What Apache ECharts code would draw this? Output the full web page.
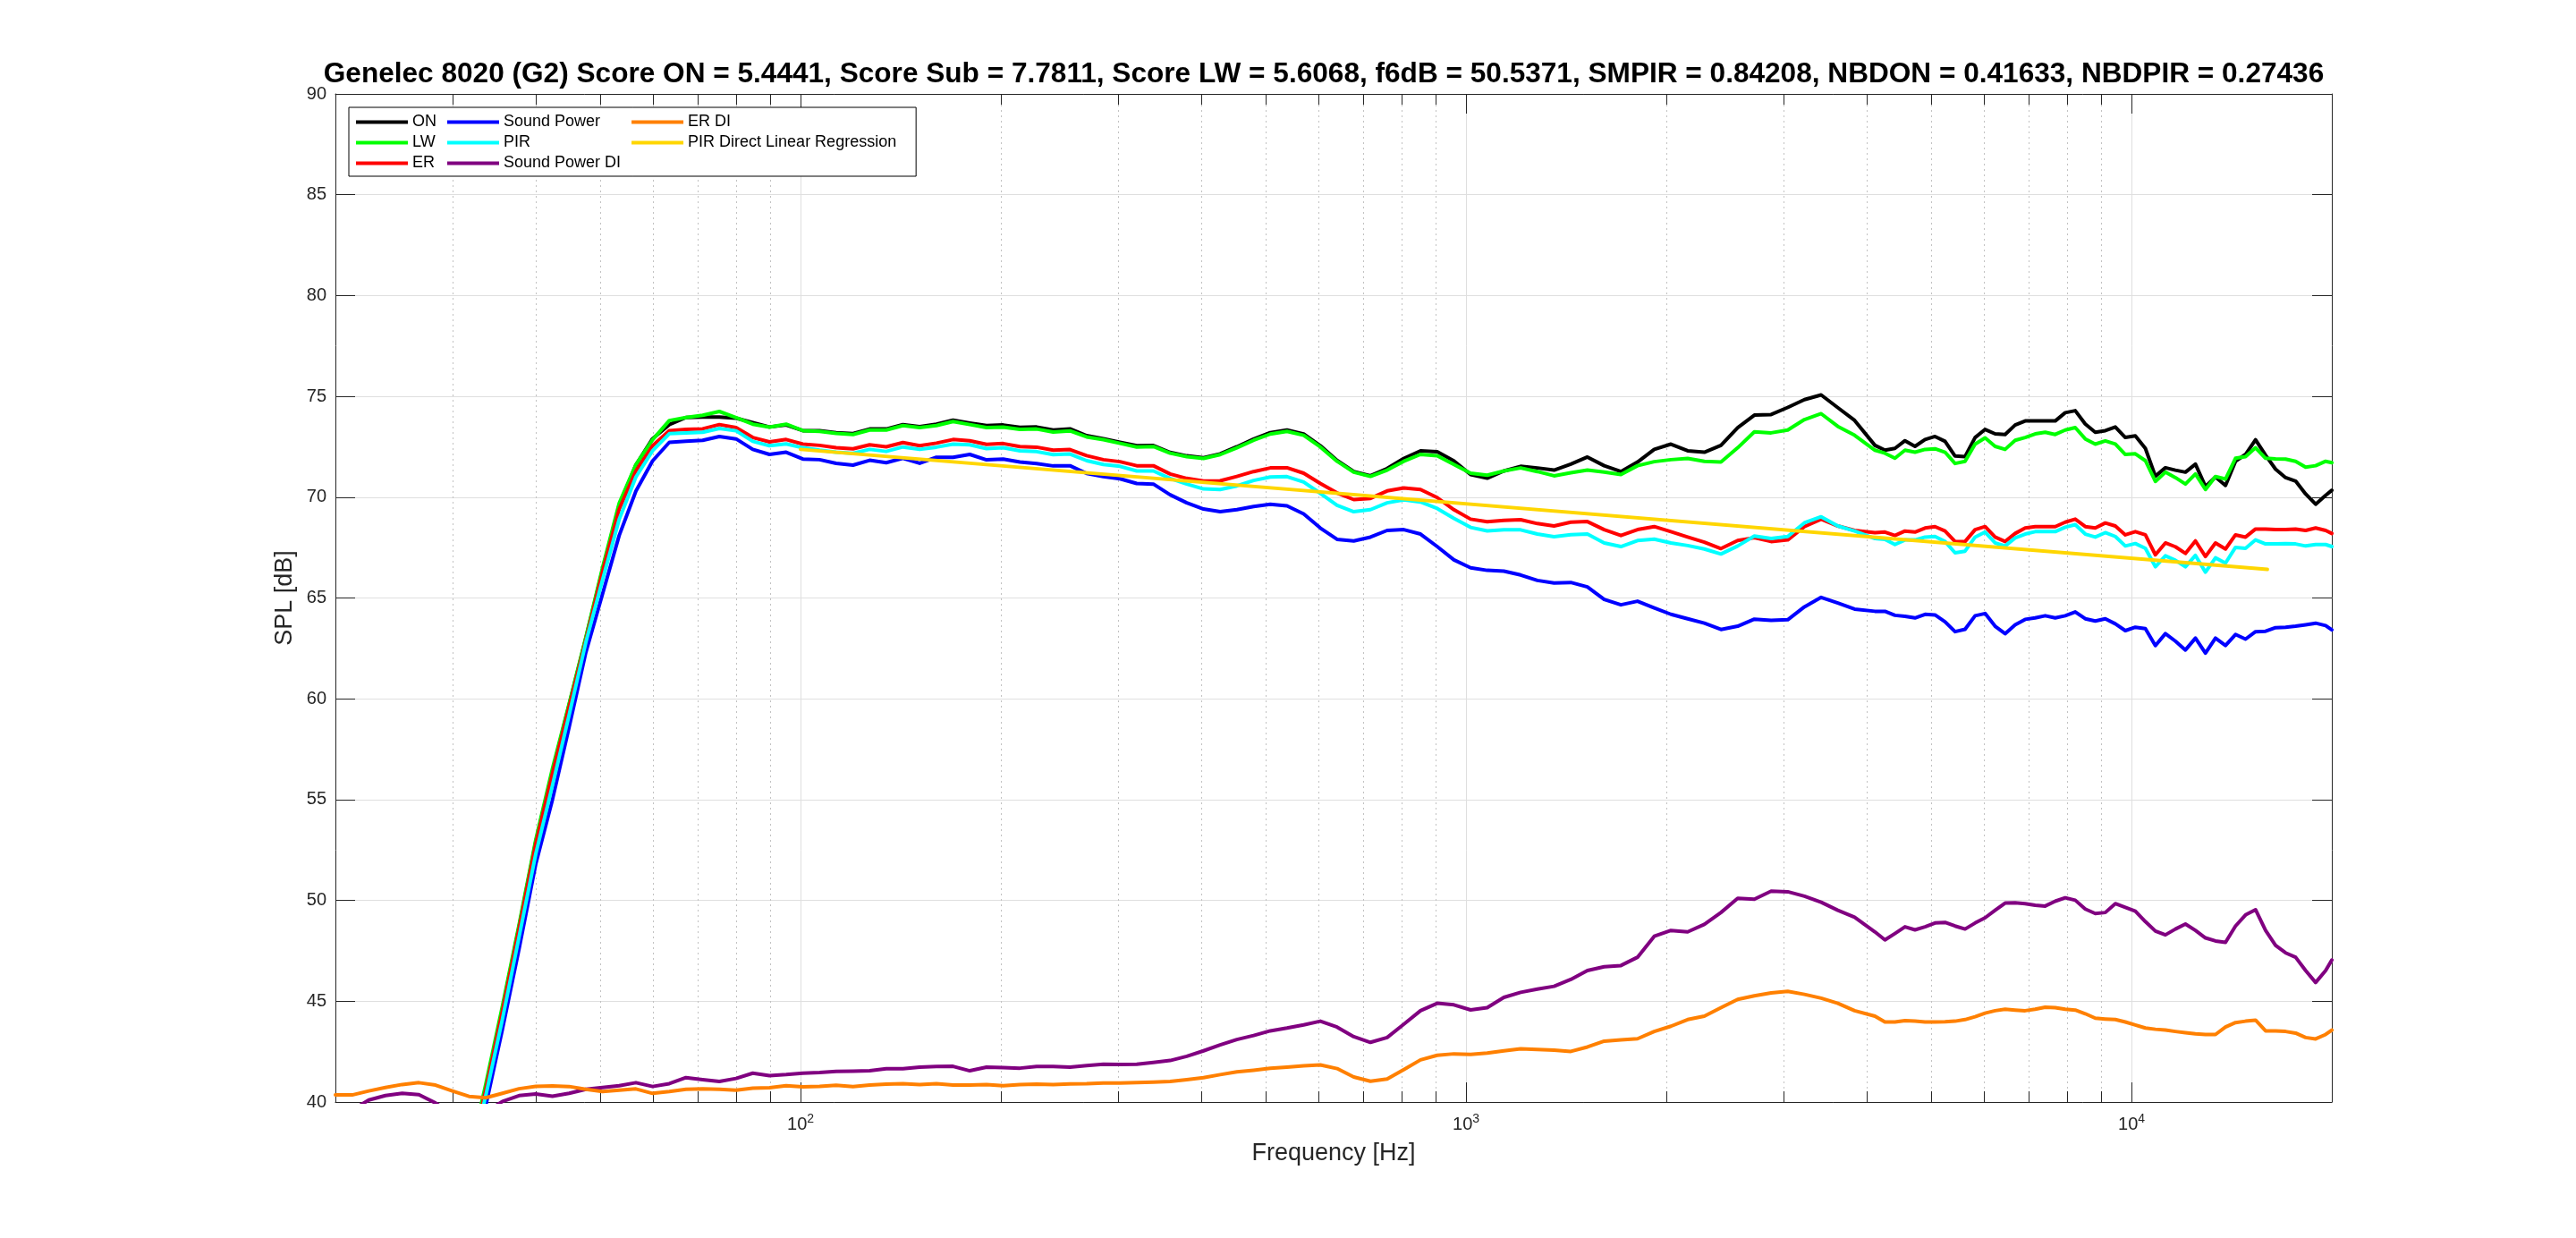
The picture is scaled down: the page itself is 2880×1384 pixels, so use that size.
<!DOCTYPE html>
<html><head><meta charset="utf-8">
<script src="https://cdn.jsdelivr.net/npm/echarts@6/dist/echarts.min.js"></script>
<style>html,body{margin:0;padding:0;background:#fff}#c{width:2880px;height:1384px}</style>
</head><body><div id="c"></div>
<script>
const TITLE = 'Genelec 8020 (G2) Score ON = 5.4441, Score Sub = 7.7811, Score LW = 5.6068, f6dB = 50.5371, SMPIR = 0.84208, NBDON = 0.41633, NBDPIR = 0.27436';
const SERIES_NAMES = ['ON', 'LW', 'ER', 'Sound Power', 'PIR', 'Sound Power DI', 'ER DI', 'PIR Direct Linear Regression'];
const MAJOR_TICKS = [100, 1000, 10000];
const MINOR_TICKS = [30, 40, 50, 60, 70, 80, 90, 200, 300, 400, 500, 600, 700, 800, 900, 2000, 3000, 4000, 5000, 6000, 7000, 8000, 9000];

const FREQ = [20, 21.19, 22.45, 23.78, 25.2, 26.7, 28.28, 29.97, 31.75, 33.64,
35.64, 37.76, 40, 42.38, 44.9, 47.57, 50.4, 53.39, 56.57, 59.93,
63.5, 67.27, 71.27, 75.51, 80, 84.76, 89.8, 95.14, 100.8, 106.8,
113.1, 119.9, 127, 134.5, 142.5, 151, 160, 169.5, 179.6, 190.3,
201.6, 213.6, 226.3, 239.7, 254, 269.1, 285.1, 302, 320, 339,
359.2, 380.5, 403.2, 427.1, 452.5, 479.5, 508, 538.2, 570.2, 604.1,
640, 678.1, 718.4, 761.1, 806.3, 854.3, 905.1, 958.9, 1016, 1076,
1140, 1208, 1280, 1356, 1437, 1522, 1613, 1709, 1810, 1918,
2032, 2153, 2281, 2416, 2560, 2712, 2874, 3044, 3225, 3417,
3620, 3836,
4116, 4261, 4411, 4567, 4728, 4895, 5067, 5246, 5431, 5622,
5821, 6026, 6238, 6458, 6686, 6922, 7166, 7419, 7680, 7951,
8232, 8522, 8822, 9134, 9456, 9789, 10134, 10492, 10862, 11245,
11641, 12052, 12477, 12917, 13372, 13844, 14332, 14838, 15361, 15903,
16463, 17044, 17645, 18267, 18911, 19578, 20000];

const ON = [null, null, null, null, null, null, null, null, 37.0, 40.5,
44.6, 48.7, 52.9, 56.4, 59.7, 63.0, 66.4, 69.6, 71.6, 72.9,
73.6, 73.95, 73.97, 73.97, 73.92, 73.7, 73.48, 73.58, 73.3, 73.3,
73.2, 73.15, 73.38, 73.38, 73.6, 73.5, 73.62, 73.82, 73.68, 73.55,
73.58, 73.46, 73.48, 73.33, 73.39, 73.05, 72.9, 72.72, 72.55, 72.56,
72.22, 72.05, 71.96, 72.15, 72.5, 72.88, 73.2, 73.33, 73.13, 72.55,
71.82, 71.27, 71.06, 71.42, 71.92, 72.3, 72.25, 71.8, 71.12, 70.94,
71.3, 71.53, 71.45, 71.34, 71.64, 71.99, 71.56, 71.27, 71.74, 72.37,
72.63, 72.3, 72.23, 72.57, 73.45, 74.07, 74.1, 74.45, 74.84, 75.07,
74.44, 73.81,
72.57, 72.33, 72.42, 72.8, 72.52, 72.86, 73.01, 72.77, 72.04, 72.01,
72.96, 73.36, 73.14, 73.11, 73.58, 73.78, 73.78, 73.78, 73.78, 74.19,
74.29, 73.63, 73.22, 73.3, 73.48, 72.96, 73.04, 72.42, 71.04, 71.46,
71.34, 71.24, 71.64, 70.53, 71.0, 70.58, 71.78, 72.12, 72.85, 72.08,
71.39, 70.97, 70.8, 70.16, 69.65, 70.09, 70.34];

const LW = [null, null, null, null, null, null, null, null, 37.2, 40.87,
44.75, 48.8, 53.0, 56.54, 59.75, 63.05, 66.5, 69.7, 71.62, 72.85,
73.8, 73.95, 74.06, 74.25, 73.95, 73.62, 73.47, 73.62, 73.3, 73.26,
73.16, 73.11, 73.33, 73.33, 73.55, 73.45, 73.55, 73.75, 73.6, 73.45,
73.47, 73.36, 73.38, 73.23, 73.29, 72.99, 72.85, 72.67, 72.49, 72.51,
72.18, 72.01, 71.92, 72.11, 72.45, 72.82, 73.13, 73.26, 73.07, 72.49,
71.78, 71.24, 71.03, 71.34, 71.78, 72.12, 72.05, 71.62, 71.19, 71.09,
71.3, 71.45, 71.27, 71.06, 71.21, 71.34, 71.24, 71.12, 71.56, 71.76,
71.86, 71.92, 71.78, 71.74, 72.45, 73.24, 73.19, 73.33, 73.85, 74.14,
73.51, 73.07,
72.33, 72.18, 71.93, 72.33, 72.23, 72.37, 72.4, 72.23, 71.67, 71.78,
72.63, 72.94, 72.52, 72.37, 72.82, 72.96, 73.14, 73.22, 73.11, 73.33,
73.45, 72.89, 72.63, 72.79, 72.64, 72.12, 72.15, 71.81, 70.78, 71.24,
70.97, 70.65, 71.15, 70.38, 71.02, 70.9, 71.93, 72.01, 72.45, 71.93,
71.9, 71.89, 71.78, 71.49, 71.56, 71.78, 71.71];

const ER = [null, null, null, null, null, null, null, null, 36.9, 40.6,
44.5, 48.6, 52.8, 56.3, 59.6, 62.9, 66.3, 69.4, 71.3, 72.55,
73.3, 73.36, 73.39, 73.6, 73.45, 72.96, 72.74, 72.86, 72.63, 72.57,
72.45, 72.4, 72.6, 72.5, 72.71, 72.55, 72.68, 72.86, 72.8, 72.62,
72.66, 72.51, 72.48, 72.33, 72.36, 72.06, 71.86, 71.76, 71.56, 71.56,
71.15, 70.93, 70.8, 70.81, 71.03, 71.27, 71.45, 71.46, 71.19, 70.68,
70.21, 69.88, 69.94, 70.31, 70.46, 70.38, 69.98, 69.38, 68.91, 68.78,
68.85, 68.88, 68.69, 68.57, 68.76, 68.79, 68.39, 68.1, 68.39, 68.54,
68.29, 68.02, 67.77, 67.45, 67.85, 67.99, 67.8, 67.88, 68.54, 68.91,
68.57, 68.35,
68.24, 68.27, 68.1, 68.32, 68.27, 68.47, 68.54, 68.32, 67.8, 67.8,
68.39, 68.54, 68.02, 67.8, 68.2, 68.47, 68.54, 68.54, 68.54, 68.76,
68.91, 68.54, 68.47, 68.72, 68.57, 68.13, 68.29, 68.13, 67.14, 67.73,
67.54, 67.21, 67.83, 67.06, 67.73, 67.43, 68.13, 68.02, 68.42, 68.42,
68.39, 68.39, 68.42, 68.35, 68.47, 68.35, 68.2];

const SP = [null, null, null, null, null, null, null, null, 36.5, 39.8,
43.6, 47.6, 51.8, 55.0, 58.6, 62.3, 65.2, 68.1, 70.3, 71.8,
72.72, 72.77, 72.82, 73.01, 72.89, 72.37, 72.12, 72.23, 71.89, 71.86,
71.68, 71.59, 71.83, 71.71, 71.93, 71.68, 71.98, 71.98, 72.12, 71.85,
71.89, 71.74, 71.67, 71.55, 71.56, 71.18, 71.02, 70.91, 70.68, 70.65,
70.12, 69.72, 69.41, 69.28, 69.38, 69.54, 69.65, 69.57, 69.17, 68.47,
67.91, 67.83, 68.02, 68.35, 68.39, 68.17, 67.55, 66.89, 66.5, 66.37,
66.33, 66.14, 65.87, 65.74, 65.77, 65.55, 64.93, 64.66, 64.84, 64.51,
64.19, 63.97, 63.75, 63.44, 63.6, 63.95, 63.89, 63.92, 64.56, 65.03,
64.75, 64.45,
64.34, 64.34, 64.14, 64.09, 64.01, 64.19, 64.16, 63.82, 63.33, 63.45,
64.12, 64.23, 63.6, 63.23, 63.67, 63.94, 64.01, 64.12, 64.01, 64.12,
64.31, 63.97, 63.86, 63.97, 63.72, 63.38, 63.55, 63.48, 62.64, 63.23,
62.86, 62.42, 63.01, 62.27, 63.01, 62.64, 63.19, 62.96, 63.33, 63.35,
63.53, 63.55, 63.6, 63.67, 63.75, 63.63, 63.42];

const PIR = [null, null, null, null, null, null, null, null, 36.8, 40.3,
44.1, 48.2, 52.3, 55.7, 59.2, 62.8, 65.9, 68.9, 71.0, 72.3,
73.15, 73.19, 73.22, 73.41, 73.29, 72.77, 72.55, 72.64, 72.45, 72.33,
72.23, 72.18, 72.37, 72.27, 72.49, 72.37, 72.48, 72.63, 72.6, 72.41,
72.45, 72.3, 72.26, 72.11, 72.14, 71.81, 71.62, 71.53, 71.3, 71.3,
70.93, 70.65, 70.41, 70.38, 70.56, 70.83, 71.0, 71.02, 70.75, 70.19,
69.6, 69.28, 69.38, 69.72, 69.87, 69.76, 69.44, 68.95, 68.5, 68.33,
68.38, 68.38, 68.17, 68.04, 68.14, 68.17, 67.73, 67.55, 67.85, 67.92,
67.73, 67.6, 67.43, 67.18, 67.58, 68.07, 67.95, 68.05, 68.73, 69.03,
68.57, 68.32,
67.95, 67.91, 67.65, 67.88, 67.88, 68.02, 68.05, 67.8, 67.24, 67.32,
68.02, 68.27, 67.73, 67.58, 67.98, 68.17, 68.29, 68.29, 68.29, 68.51,
68.64, 68.17, 68.02, 68.24, 68.05, 67.58, 67.7, 67.46, 66.55, 67.09,
66.87, 66.55, 67.11, 66.28, 66.99, 66.73, 67.51, 67.46, 67.88, 67.68,
67.68, 67.7, 67.68, 67.58, 67.65, 67.65, 67.55];

const SP_DI = [39.0, 39.6, 40.1, 40.32, 40.43, 40.37, 39.95, 39.4, 39.1, 39.5,
40.03, 40.32, 40.4, 40.29, 40.43, 40.63, 40.72, 40.81, 40.96, 40.77,
40.91, 41.21, 41.11, 41.02, 41.17, 41.43, 41.31, 41.36, 41.43, 41.46,
41.52, 41.53, 41.55, 41.65, 41.65, 41.73, 41.76, 41.77, 41.55, 41.73,
41.71, 41.68, 41.76, 41.76, 41.73, 41.81, 41.87, 41.86, 41.87, 41.96,
42.06, 42.27, 42.54, 42.83, 43.1, 43.3, 43.53, 43.67, 43.83, 44.01,
43.72, 43.24, 42.96, 43.2, 43.86, 44.53, 44.9, 44.82, 44.57, 44.68,
45.19, 45.44, 45.6, 45.74, 46.08, 46.52, 46.71, 46.77, 47.18, 48.22,
48.51, 48.44, 48.81, 49.4, 50.1, 50.06, 50.46, 50.43, 50.21, 49.91,
49.51, 49.17,
48.44, 48.04, 48.36, 48.69, 48.54, 48.69, 48.88, 48.91, 48.73, 48.58,
48.88, 49.14, 49.51, 49.87, 49.88, 49.84, 49.76, 49.72, 49.96, 50.13,
50.01, 49.57, 49.35, 49.4, 49.84, 49.66, 49.47, 48.95, 48.48, 48.29,
48.58, 48.83, 48.51, 48.14, 47.99, 47.92, 48.73, 49.28, 49.54, 48.51,
47.77, 47.4, 47.18, 46.52, 45.93, 46.52, 47.04];

const ER_DI = [40.35, 40.35, 40.55, 40.72, 40.87, 40.96, 40.84, 40.55, 40.28, 40.21,
40.43, 40.66, 40.78, 40.8, 40.77, 40.63, 40.52, 40.59, 40.65, 40.43,
40.52, 40.63, 40.65, 40.63, 40.59, 40.69, 40.71, 40.81, 40.75, 40.78,
40.83, 40.77, 40.84, 40.89, 40.91, 40.87, 40.91, 40.84, 40.84, 40.87,
40.81, 40.87, 40.89, 40.87, 40.9, 40.91, 40.94, 40.94, 40.96, 40.99,
41.02, 41.11, 41.21, 41.36, 41.5, 41.58, 41.67, 41.73, 41.8, 41.84,
41.66, 41.24, 41.03, 41.14, 41.61, 42.09, 42.32, 42.39, 42.36, 42.43,
42.54, 42.64, 42.61, 42.57, 42.51, 42.73, 43.02, 43.08, 43.14, 43.5,
43.76, 44.09, 44.26, 44.68, 45.09, 45.27, 45.41, 45.49, 45.34, 45.15,
44.9, 44.53,
44.26, 43.97, 43.97, 44.04, 44.01, 43.97, 43.97, 43.98, 44.01, 44.09,
44.23, 44.41, 44.53, 44.6, 44.56, 44.53, 44.6, 44.7, 44.68, 44.6,
44.56, 44.38, 44.16, 44.12, 44.09, 43.97, 43.82, 43.67, 43.61, 43.57,
43.5, 43.44, 43.38, 43.35, 43.35, 43.72, 43.94, 44.01, 44.06, 43.53,
43.53, 43.5, 43.42, 43.2, 43.13, 43.35, 43.57];

const REG_FREQ = [100, 16000];
const REG_DB = [72.37, 66.42];

const COLORS = ['#000000', '#00ff00', '#ff0000', '#0000ff', '#00ffff', '#800080', '#ff8000', '#ffd600'];
const FONT = '"Liberation Sans", Arial, Helvetica, sans-serif';
const AXC = '#262626';
const GRIDC = '#dfdfdf';
const FMIN = 20, FMAX = 20000;

const chart = echarts.init(document.getElementById('c'), null, { renderer: 'canvas' });

function lineSeries(name, xs, ys, color) {
  return {
    name: name, type: 'line', xAxisIndex: 0, yAxisIndex: 0,
    data: xs.map((f, i) => [f, ys[i]]),
    showSymbol: false, symbol: 'none', connectNulls: false, clip: true,
    lineStyle: { color: color, width: 4, join: 'round', cap: 'round' },
    itemStyle: { color: color },
    emphasis: { disabled: true }, silent: true, animation: false
  };
}

const supFmt = function (v) {
  const e = Math.log10(v);
  if (Math.abs(e - Math.round(e)) > 1e-6 || MAJOR_TICKS.indexOf(Math.round(v)) < 0) return '';
  return '{b|10}{s|' + Math.round(e) + '}';
};

const option = {
  animation: false,
  backgroundColor: '#ffffff',
  textStyle: { fontFamily: FONT },
  title: {
    text: TITLE, left: 1480, top: 67, textAlign: 'center', padding: 0,
    textStyle: { fontSize: 31.6, fontWeight: 'bold', color: '#000', fontFamily: FONT }
  },
  legend: {
    data: SERIES_NAMES, orient: 'vertical', left: 390, top: 120, height: 75,
    itemWidth: 58, itemHeight: 4, itemGap: 4, icon: 'rect',
    padding: [7, 14, 5, 8], borderColor: '#000', borderWidth: 1, backgroundColor: '#fff',
    selectedMode: false,
    textStyle: { fontSize: 18, lineHeight: 19, padding: [0, 8, 0, 0], color: '#000', fontFamily: FONT }
  },
  grid: { left: 375, right: 273, top: 105, bottom: 152, outerBoundsMode: 'none' },
  xAxis: [
    {
      type: 'log', logBase: 10, min: FMIN, max: FMAX, position: 'bottom',
      axisLine: { show: true, onZero: false, lineStyle: { color: AXC, width: 1 } },
      axisTick: { show: true, inside: true, length: 22, lineStyle: { color: AXC, width: 1 } },
      axisLabel: {
        show: true, margin: 12, formatter: supFmt,
        rich: {
          b: { fontSize: 20, color: AXC, fontFamily: FONT },
          s: { fontSize: 14, color: AXC, fontFamily: FONT, padding: [0, 0, 12, 0] }
        }
      },
      splitLine: { show: true, lineStyle: { color: GRIDC, width: 1 } },
      name: 'Frequency [Hz]', nameLocation: 'middle', nameGap: 44,
      nameTextStyle: { fontSize: 27, color: AXC, fontFamily: FONT }
    },
    {
      type: 'value', min: Math.log10(FMIN), max: Math.log10(FMAX), position: 'bottom',
      axisLine: { show: false, onZero: false },
      axisTick: { show: true, inside: true, length: 12, customValues: MINOR_TICKS.map(Math.log10), lineStyle: { color: AXC, width: 1 } },
      axisLabel: { show: false },
      splitLine: { show: true, lineStyle: { color: '#c2c2c2', width: 1, type: [2, 4] } }
    },
    {
      type: 'log', logBase: 10, min: FMIN, max: FMAX, position: 'top',
      axisLine: { show: true, onZero: false, lineStyle: { color: AXC, width: 1 } },
      axisTick: { show: true, inside: true, length: 22, lineStyle: { color: AXC, width: 1 } },
      axisLabel: { show: false }, splitLine: { show: false }
    },
    {
      type: 'value', min: Math.log10(FMIN), max: Math.log10(FMAX), position: 'top',
      axisLine: { show: false, onZero: false },
      axisTick: { show: true, inside: true, length: 12, customValues: MINOR_TICKS.map(Math.log10), lineStyle: { color: AXC, width: 1 } },
      axisLabel: { show: false }, splitLine: { show: false }
    }
  ],
  yAxis: [
    {
      type: 'value', min: 40, max: 90, interval: 5, position: 'left',
      axisLine: { show: true, onZero: false, lineStyle: { color: AXC, width: 1 } },
      axisTick: { show: true, inside: true, length: 22, lineStyle: { color: AXC, width: 1 } },
      axisLabel: { fontSize: 20, color: AXC, margin: 10, fontFamily: FONT },
      splitLine: { show: true, lineStyle: { color: GRIDC, width: 1 } },
      name: 'SPL [dB]', nameLocation: 'middle', nameGap: 33, nameRotate: 90,
      nameTextStyle: { fontSize: 27, color: AXC, fontFamily: FONT }
    },
    {
      type: 'value', min: 40, max: 90, interval: 5, position: 'right',
      axisLine: { show: true, onZero: false, lineStyle: { color: AXC, width: 1 } },
      axisTick: { show: true, inside: true, length: 22, lineStyle: { color: AXC, width: 1 } },
      axisLabel: { show: false }, splitLine: { show: false }
    }
  ],
  series: [
    lineSeries('ON', FREQ, ON, COLORS[0]),
    lineSeries('LW', FREQ, LW, COLORS[1]),
    lineSeries('ER', FREQ, ER, COLORS[2]),
    lineSeries('Sound Power', FREQ, SP, COLORS[3]),
    lineSeries('PIR', FREQ, PIR, COLORS[4]),
    lineSeries('Sound Power DI', FREQ, SP_DI, COLORS[5]),
    lineSeries('ER DI', FREQ, ER_DI, COLORS[6]),
    lineSeries('PIR Direct Linear Regression', REG_FREQ, REG_DB, COLORS[7])
  ]
};
chart.setOption(option);
</script>
</body></html>
